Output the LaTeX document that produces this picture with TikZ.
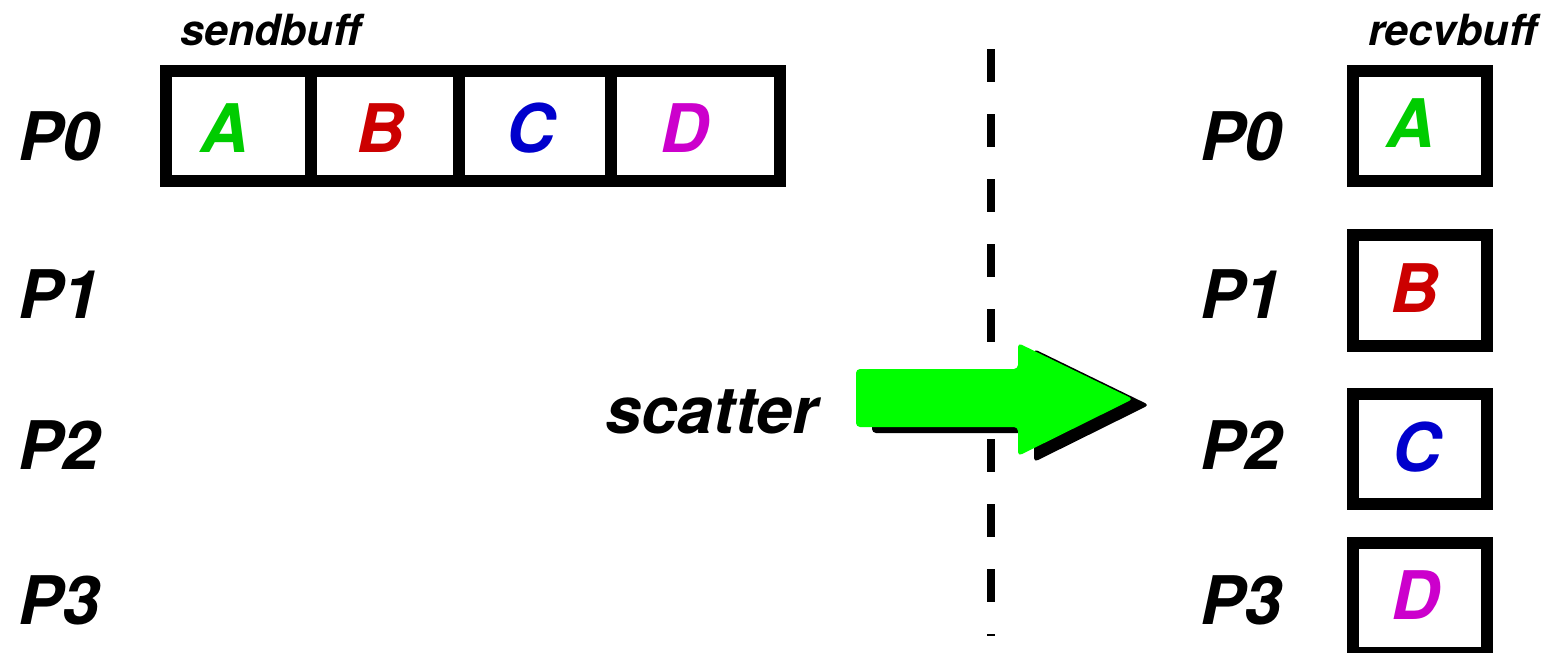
\documentclass[tikz,border=0pt]{standalone}
\usepackage{fontspec}
\setmainfont{TeX Gyre Heros}
\usetikzlibrary{positioning}
\definecolor{scatgreen}{RGB}{0,204,0}
\definecolor{scatred}{RGB}{204,0,0}
\definecolor{scatblue}{RGB}{0,0,204}
\definecolor{scatmagenta}{RGB}{204,0,204}
\definecolor{scatarrow}{RGB}{0,255,0}

\begin{document}
\begin{tikzpicture}[
    x=1pt, y=-1pt,
    line join=miter,
    cell/.style={draw=black, line width=12pt, inner sep=0pt,
                 minimum height=110pt},
    rbox/.style={cell, minimum width=134pt},
    lett/.style={inner sep=0pt, font=\fontsize{67}{67}\selectfont\bfseries\itshape},
    plab/.style={inner sep=0pt, anchor=base west,
                 font=\fontsize{67}{67}\selectfont\bfseries\itshape},
    bufname/.style={inner sep=0pt, anchor=base west,
                    font=\fontsize{43}{43}\selectfont\bfseries\itshape},
    divider/.style={line width=8pt, dash pattern=on 33pt off 32pt},
  ]
  \useasboundingbox (0,0) rectangle (1550,653);

  % ---- send buffer on P0 ------------------------------------
  \node[bufname] (sendname) at (180,45) {sendbuff};
  \node[cell, minimum width=145pt] (s0) at (238.5,126) {};
  \node[cell, minimum width=148pt] (s1) at (385,126) {};
  \node[cell, minimum width=152pt] (s2) at (535,126) {};
  \node[cell, minimum width=169pt] (s3) at (695.5,126) {};
  \node[lett, scatgreen]   (sA) at (225,128) {A};
  \node[lett, scatred]     (sB) at (381,128) {B};
  \node[lett, scatblue]    (sC) at (531,128) {C};
  \node[lett, scatmagenta] (sD) at (685,128) {D};

  % ---- process labels ---------------------------------------
  \node[plab] (lp0) at (18,160) {P0};
  \node[plab] (lp1) at (18,318) {P1};
  \node[plab] (lp2) at (18,469) {P2};
  \node[plab] (lp3) at (18,624) {P3};
  \node[plab] (rp0) at (1200,160) {P0};
  \node[plab] (rp1) at (1200,318) {P1};
  \node[plab] (rp2) at (1200,469) {P2};
  \node[plab] (rp3) at (1200,624) {P3};

  % ---- before / after divider -------------------------------
  \coordinate (divtop) at (991,49);
  \coordinate (divbot) at (991,636);
  \draw[divider] (divtop) -- (divbot);

  % ---- scatter arrow ----------------------------------------
  \node[plab, font=\fontsize{65}{65}\selectfont\bfseries\itshape]
       (scatname) at (605,433) {scatter};
  \fill[black, rounded corners=4pt, shift={(16,6)}]
    (856,369) -- (1018,369) -- (1018,343) -- (1133,399)
    -- (1018,456) -- (1018,427) -- (856,427) -- cycle;
  \fill[scatarrow, rounded corners=4pt]
    (856,369) -- (1018,369) -- (1018,343) -- (1133,399)
    -- (1018,456) -- (1018,427) -- (856,427) -- cycle;

  % ---- receive buffers --------------------------------------
  \node[bufname] (recvname) at (1368,45) {recvbuff};
  \node[rbox] (r0) at (1420,126) {};
  \node[rbox, minimum height=111pt] (r1) at (1420,290.5) {};
  \node[rbox] (r2) at (1420,449) {};
  \node[rbox] (r3) at (1420,598) {};
  \node[lett, scatgreen]   (rA) at (1411,123.5) {A};
  \node[lett, scatred]     (rB) at (1415,288) {B};
  \node[lett, scatblue]    (rC) at (1417,447) {C};
  \node[lett, scatmagenta] (rD) at (1416,595.5) {D};

\end{tikzpicture}
\end{document}
